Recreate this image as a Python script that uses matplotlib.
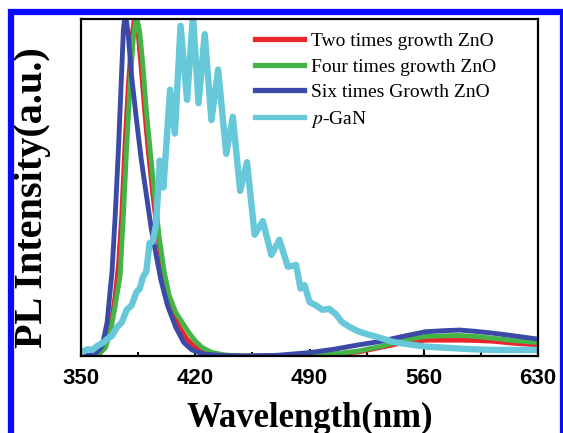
import numpy as np
import matplotlib
matplotlib.use('Agg')
from matplotlib import pyplot as plt
from matplotlib.patches import Rectangle
from matplotlib.ticker import MultipleLocator

# two times growth ZnO
wl_two = [350, 358, 362, 365, 368, 371, 373, 375, 377, 379, 381, 383, 385, 387, 389,
          391, 394, 397, 400, 403, 407, 411, 415, 419, 424, 430, 438, 450, 470, 490,
          505, 520, 535, 547, 561, 572, 582, 592, 602, 615, 630]
pl_two = [0.0, 0.002, 0.012, 0.03, 0.08, 0.18, 0.27, 0.42, 0.63, 0.80, 0.94, 1.01, 0.96,
          0.85, 0.73, 0.62, 0.48, 0.36, 0.26, 0.18, 0.12, 0.08, 0.05, 0.03, 0.015, 0.006,
          0.002, 0.0, 0.0, 0.002, 0.005, 0.012, 0.027, 0.039, 0.047, 0.047, 0.047, 0.046,
          0.044, 0.038, 0.033]

# four times growth ZnO
wl_four = [350, 358, 362, 365, 368, 371, 374, 376, 378, 380, 382, 384, 386, 388, 390,
           392, 395, 398, 401, 404, 408, 412, 416, 420, 424, 430, 438, 450, 470, 490,
           505, 520, 535, 547, 561, 572, 582, 592, 602, 615, 630]
pl_four = [0.0, 0.002, 0.01, 0.025, 0.07, 0.15, 0.24, 0.42, 0.62, 0.80, 0.94, 1.01, 0.96,
           0.86, 0.73, 0.63, 0.48, 0.35, 0.25, 0.18, 0.13, 0.10, 0.07, 0.045, 0.026,
           0.011, 0.003, 0.0, 0.0, 0.002, 0.006, 0.015, 0.03, 0.047, 0.058, 0.06, 0.061,
           0.058, 0.053, 0.046, 0.04]

# six times growth ZnO
wl_six = [350, 356, 360, 363, 366, 369, 371, 373, 376, 377, 378, 379, 381, 384, 387,
          390, 393, 396, 399, 403, 408, 413, 418, 425, 435, 450, 470, 490, 505, 520,
          533, 547, 561, 572, 582, 592, 602, 615, 630]
pl_six = [0.0, 0.003, 0.012, 0.03, 0.10, 0.25, 0.42, 0.62, 0.97, 1.01, 0.99, 0.95, 0.83,
          0.70, 0.58, 0.48, 0.38, 0.30, 0.225, 0.15, 0.086, 0.04, 0.018, 0.006, 0.002,
          0.0, 0.002, 0.01, 0.02, 0.033, 0.043, 0.058, 0.072, 0.075, 0.077, 0.073, 0.068,
          0.06, 0.05]

# p-GaN
wl_gan = [350, 354, 357, 360, 363, 366, 369, 372, 375, 378, 381, 384, 386, 388, 390,
          392, 394, 396, 398.3, 400.5, 404.6, 407.5, 411, 415, 418.6, 422, 425.8, 429.9,
          434, 439, 443, 447.5, 451.7, 456.4, 461.4, 466.6, 471.6, 476.7, 481.8, 484.5,
          487, 490, 494, 498, 502, 506, 510, 515, 520, 525, 531, 536, 541, 550, 561,
          575, 590, 602, 615, 630]
pl_gan = [0.01, 0.02, 0.018, 0.03, 0.038, 0.05, 0.06, 0.085, 0.10, 0.137, 0.15, 0.19,
          0.20, 0.235, 0.25, 0.335, 0.34, 0.39, 0.58, 0.50, 0.79, 0.66, 0.98, 0.76, 1.01,
          0.75, 0.955, 0.70, 0.85, 0.60, 0.71, 0.49, 0.575, 0.36, 0.40, 0.30, 0.345,
          0.265, 0.27, 0.20, 0.21, 0.16, 0.15, 0.137, 0.14, 0.125, 0.10, 0.085, 0.073,
          0.065, 0.057, 0.05, 0.042, 0.035, 0.028, 0.024, 0.02, 0.018, 0.018, 0.018]

labels = ['Two times growth ZnO', 'Four times growth ZnO', 'Six times Growth ZnO',
          '$p$-GaN']
colors = ['#e8262c', '#45b447', '#3a4aa6', '#66c8d8']

plt.rcParams['mathtext.fontset'] = 'stix'

fig = plt.figure(figsize=(5.63, 4.33), dpi=100)
ax = fig.add_axes([81 / 563, 1 - 356 / 433, 457 / 563, 337 / 433])

series = [(wl_two, pl_two), (wl_four, pl_four), (wl_six, pl_six), (wl_gan, pl_gan)]
for (x, y), c, lab in zip(series, colors, labels):
    lw = 4.6 if lab == '$p$-GaN' else 3.5
    ax.plot(x, y, color=c, lw=lw, label=lab, solid_joinstyle='round')

ax.set_xlim(350, 630)
ax.set_ylim(0, 1.0)
ax.xaxis.set_major_locator(MultipleLocator(70))
ax.xaxis.set_minor_locator(MultipleLocator(35))
ax.tick_params(axis='x', which='major', direction='in', length=5, width=1.5, pad=9)
ax.tick_params(axis='x', which='minor', direction='in', length=3, width=1.5)
ax.set_yticks([])
for lab in ax.get_xticklabels():
    lab.set_fontfamily('Liberation Sans')
    lab.set_fontweight('bold')
    lab.set_fontsize(16)
for sp in ax.spines.values():
    sp.set_linewidth(1.6)

ax.set_xlabel('Wavelength(nm)', family='Liberation Serif', weight='bold', fontsize=25)
ax.xaxis.set_label_coords(0.5, -0.135)
ax.set_ylabel('PL Intensity(a.u.)', family='Liberation Serif', weight='bold', fontsize=29)
ax.yaxis.set_label_coords(-0.066, 0.47)

leg = ax.legend(loc='upper left', bbox_to_anchor=(0.381, 0.96), frameon=False,
                prop={'family': 'Liberation Serif', 'size': 14}, handlelength=2.5,
                handletextpad=0.35, labelspacing=0.41, borderaxespad=0, borderpad=0)
for h in leg.get_lines():
    h.set_linewidth(3.8)

# blue frame around the figure
fig.add_artist(Rectangle((11, -20), 552, 441, transform=None, fill=False,
                         edgecolor='#0a0afa', lw=4.5, clip_on=False))

fig.savefig('out.png', dpi=100)
